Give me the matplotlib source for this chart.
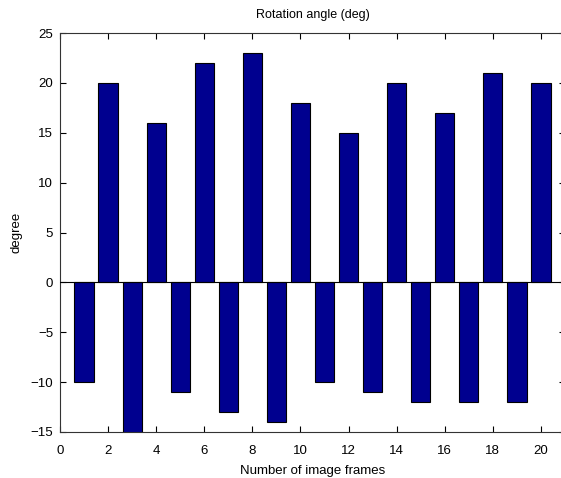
import matplotlib
matplotlib.use("Agg")
import matplotlib.pyplot as plt

frames = list(range(1, 21))
angles = [-10, 20, -16, 16, -11, 22, -13, 23, -14, 18,
          -10, 15, -11, 20, -12, 17, -12, 21, -12, 20]
xticks = [0, 2, 4, 6, 8, 10, 12, 14, 16, 18, 20]
yticks = [-15, -10, -5, 0, 5, 10, 15, 20, 25]

plt.rcParams['font.family'] = ['Liberation Sans', 'DejaVu Sans']
fig = plt.figure(figsize=(5.61, 4.78), dpi=100)
ax = fig.add_axes([60/561, 46/478, 505/561, 399/478])
ax.bar(frames, angles, width=0.8, color='#00008F', edgecolor='black', linewidth=0.8, zorder=2)
ax.axhline(0, color='black', linewidth=0.8, zorder=3)
ax.set_xlim(0, 21)
ax.set_ylim(-15, 25)
ax.set_xticks(xticks)
ax.set_yticks(yticks)
ax.tick_params(direction='in', top=True, right=True, length=4, width=0.8, labelsize=9.5, pad=5)
ax.tick_params(axis='x', pad=9)
for s in ax.spines.values():
    s.set_linewidth(0.8)
    s.set_color('#333333')
ax.set_title('Rotation angle (deg)', fontsize=9, pad=11)
ax.set_xlabel('Number of image frames', fontsize=9.5, labelpad=6)
ax.set_ylabel('degree', fontsize=9.5, labelpad=6)
fig.savefig('out.png', dpi=100)
